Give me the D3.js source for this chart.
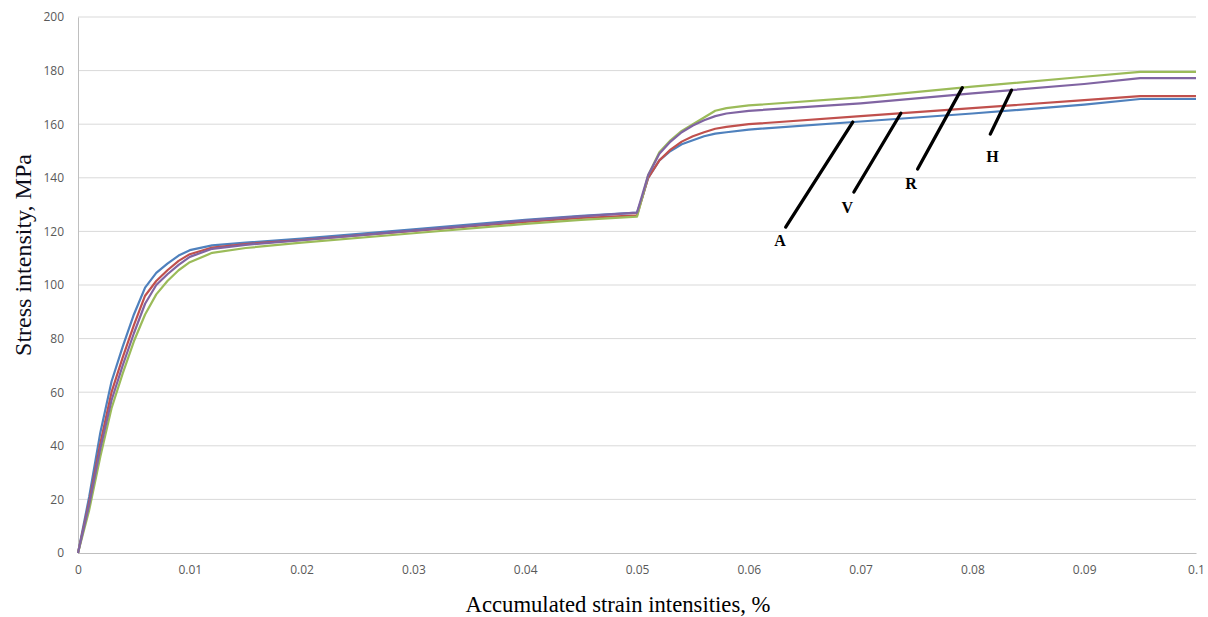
<!DOCTYPE html>
<html>
<head>
<meta charset="utf-8">
<script src="https://cdn.jsdelivr.net/npm/d3@7"></script>
<style>
  html, body { margin: 0; padding: 0; background: #fff; }
  svg { display: block; }
</style>
</head>
<body>
<div id="chart"></div>
<script>
'use strict';

// Strain (%) shared by every curve.
var strain = [0, 0.001, 0.002, 0.003, 0.004, 0.005, 0.006, 0.007, 0.008, 0.009,
  0.01, 0.012, 0.015, 0.02, 0.03, 0.04, 0.045, 0.05, 0.0505, 0.051, 0.052, 0.053,
  0.054, 0.055, 0.056, 0.057, 0.058, 0.06, 0.07, 0.08, 0.09, 0.095, 0.1];

// Stress intensity (MPa) per curve.
var blueStress = [0, 21, 45, 64, 77, 89, 99, 104.5, 108, 111,
  113, 114.8, 115.8, 117.3, 120.8, 124.3, 125.8, 127, 133, 140, 146.5, 150,
  152.5, 154, 155.5, 156.5, 157, 158, 161, 164, 167.3, 169.4, 169.4];
var redStress = [0, 19, 41, 60, 73, 85, 96, 101.5, 105.5, 109,
  111.5, 114, 115.3, 116.8, 120.2, 123.5, 125, 126, 133, 140, 146.5, 150.5,
  153.5, 155.5, 157, 158.3, 159, 160, 163, 166, 169, 170.5, 170.5];
var purpleStress = [0, 18, 39, 57, 70, 82, 93, 100, 104, 107.5,
  110.5, 113.5, 115, 116.7, 120.3, 124, 125.6, 127, 134, 141, 149, 153.5,
  157, 159.5, 161.5, 163, 164, 165, 167.8, 171.5, 175, 177.2, 177.2];
var greenStress = [0, 16, 36, 54, 67, 79, 89, 96.5, 101.5, 105.5,
  108.5, 112, 113.8, 115.8, 119.3, 122.8, 124.3, 125.5, 133, 141, 149.5, 154,
  157.5, 160, 162.5, 165, 166, 167, 170, 174, 177.7, 179.5, 179.5];

var seriesNames  = ['blue', 'red', 'green', 'purple'];
var seriesColors = ['#4f81bd', '#c0504d', '#9bbb59', '#8064a2'];
var seriesValues = [blueStress, redStress, greenStress, purpleStress];

var xTicks = [0, 0.01, 0.02, 0.03, 0.04, 0.05, 0.06, 0.07, 0.08, 0.09, 0.1];
var xTickLabels = ['0', '0.01', '0.02', '0.03', '0.04', '0.05', '0.06', '0.07', '0.08', '0.09', '0.1'];
var yTicks = [0, 20, 40, 60, 80, 100, 120, 140, 160, 180, 200];

// Hand-drawn callouts: which curve they touch, where, and where the label sits.
var annoLabels = ['A', 'V', 'R', 'H'];
var annoSeries = [0, 1, 2, 3];
var annoTipX   = [0.0693, 0.0736, 0.0791, 0.0835];
var annoTailX  = [0.0633, 0.0694, 0.0751, 0.0816];
var annoTailY  = [121.6, 134.7, 143.3, 156.3];
var annoTextX  = [0.0628, 0.0688, 0.0745, 0.0818];
var annoTextY  = [114.5, 127, 136, 146];

var width = 1208, height = 617;
var margin = {top: 17, right: 12, bottom: 64, left: 78};
var plotW = width - margin.left - margin.right;
var plotH = height - margin.top - margin.bottom;

var svg = d3.select('#chart').append('svg')
  .attr('width', width)
  .attr('height', height);

var x = d3.scaleLinear().domain([0, 0.1]).range([0, plotW]);
var y = d3.scaleLinear().domain([0, 200]).range([plotH, 0]);

var g = svg.append('g')
  .attr('transform', 'translate(' + margin.left + ',' + margin.top + ')');

// Gridlines.
g.append('g')
  .selectAll('line')
  .data(yTicks.slice(1))
  .enter().append('line')
  .attr('x1', 0).attr('x2', plotW)
  .attr('y1', function(d) { return y(d); })
  .attr('y2', function(d) { return y(d); })
  .attr('stroke', '#d9d9d9')
  .attr('stroke-width', 1);

// Axes.
var xAxis = d3.axisBottom(x).tickValues(xTicks)
  .tickFormat(function(d, i) { return xTickLabels[i]; })
  .tickSize(0).tickPadding(12);
var yAxis = d3.axisLeft(y).tickValues(yTicks).tickSize(0).tickPadding(14);

var gx = g.append('g').attr('transform', 'translate(0,' + plotH + ')').call(xAxis);
var gy = g.append('g').call(yAxis);

[gx, gy].forEach(function(a) {
  a.select('.domain').attr('stroke', '#bfbfbf').attr('stroke-width', 1);
  a.selectAll('text')
    .attr('fill', '#595959')
    .style('font-family', '"Open Sans", "Liberation Sans", sans-serif')
    .style('font-size', '12px');
});

// Curves.
var line = d3.line()
  .x(function(d) { return x(d[0]); })
  .y(function(d) { return y(d[1]); });

seriesValues.forEach(function(vals, i) {
  g.append('path')
    .datum(strain.map(function(s, j) { return [s, vals[j]]; }))
    .attr('class', 'curve-' + seriesNames[i])
    .attr('fill', 'none')
    .attr('stroke', seriesColors[i])
    .attr('stroke-width', 2.2)
    .attr('stroke-linejoin', 'round')
    .attr('d', line);
});

function valueAt(vals, s) {
  var i = d3.bisectLeft(strain, s);
  if (i <= 0) return vals[0];
  var t = (s - strain[i - 1]) / (strain[i] - strain[i - 1]);
  return vals[i - 1] + t * (vals[i] - vals[i - 1]);
}

// Callouts.
annoLabels.forEach(function(lbl, i) {
  var tipY = valueAt(seriesValues[annoSeries[i]], annoTipX[i]);
  g.append('line')
    .attr('x1', x(annoTailX[i])).attr('y1', y(annoTailY[i]))
    .attr('x2', x(annoTipX[i])).attr('y2', y(tipY))
    .attr('stroke', '#000')
    .attr('stroke-width', 3.3)
    .attr('stroke-linecap', 'round');
  g.append('text')
    .attr('x', x(annoTextX[i]))
    .attr('y', y(annoTextY[i]))
    .attr('text-anchor', 'middle')
    .style('font-family', '"Liberation Serif", "Times New Roman", serif')
    .style('font-weight', 'bold')
    .style('font-size', '16px')
    .text(lbl);
});

// Axis titles.
svg.append('text')
  .attr('x', margin.left + x(0.0483))
  .attr('y', 612)
  .attr('text-anchor', 'middle')
  .style('font-family', '"Liberation Serif", "Times New Roman", serif')
  .style('font-size', '22.7px')
  .attr('fill', '#000')
  .text('Accumulated strain intensities, %');

svg.append('text')
  .attr('transform', 'translate(31,' + 255 + ') rotate(-90)')
  .attr('text-anchor', 'middle')
  .style('font-family', '"Liberation Serif", "Times New Roman", serif')
  .style('font-size', '24px')
  .attr('fill', '#0d0d1a')
  .text('Stress intensity, MPa');
</script>
</body>
</html>
